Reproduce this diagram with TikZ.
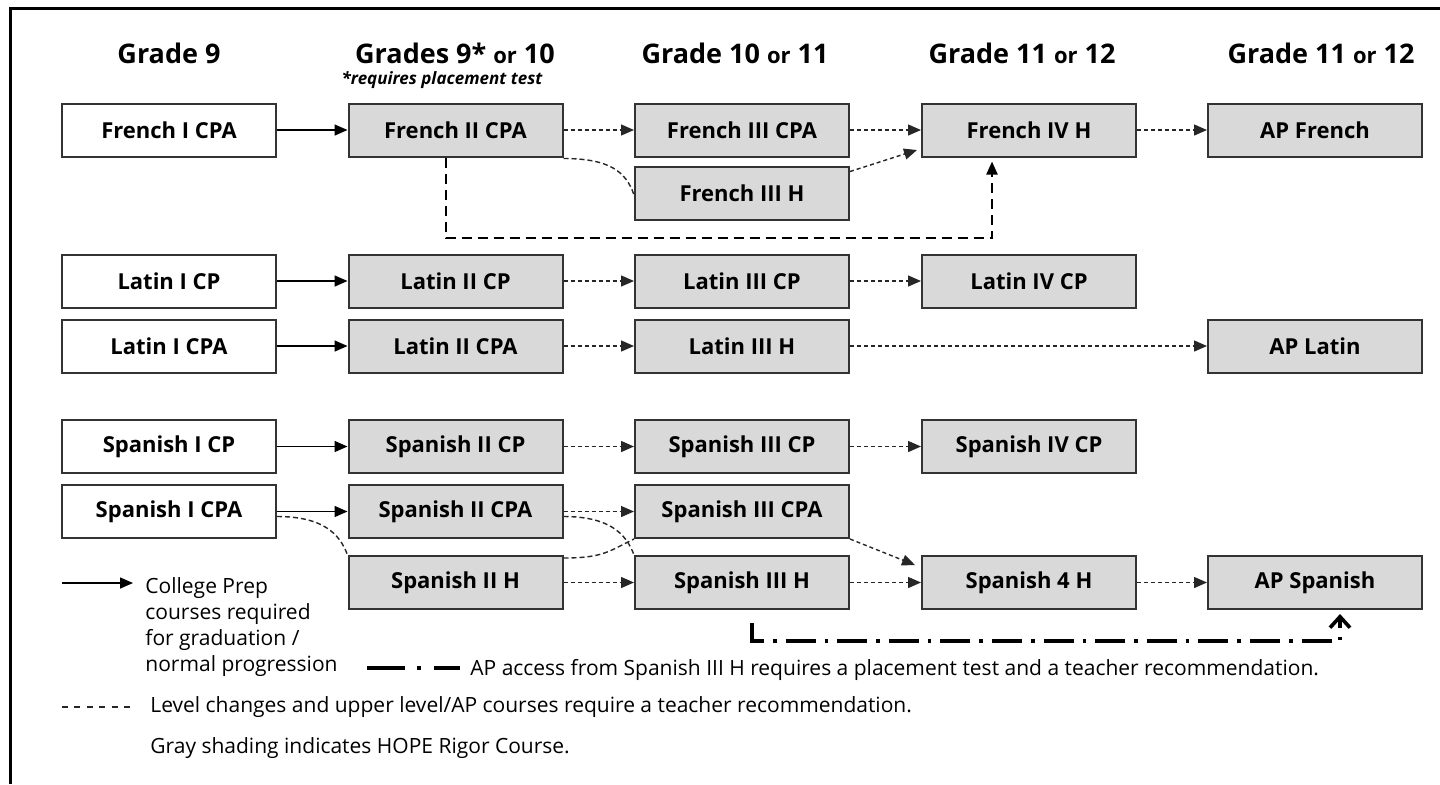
\documentclass[tikz,border=0pt]{standalone}
\usepackage{fontspec}
\setmainfont{Open Sans}
\usepackage{xcolor}
\usetikzlibrary{arrows.meta}
\usetikzlibrary{positioning}

\definecolor{hopegray}{HTML}{D9D9D9}
\definecolor{boxline}{HTML}{333333}

\newcommand{\orword}{{\fontsize{11}{13}\selectfont or}}

\begin{document}
\begin{tikzpicture}[
    x=0.5pt, y=-0.5pt,
    curso/.style={draw=boxline, line width=1pt, fill=white, minimum width=107pt, minimum height=26.5pt, inner sep=0pt, font=\fontsize{11}{13}\selectfont\bfseries},
    hope/.style={curso, fill=hopegray},
    grado/.style={font=\fontsize{13.5}{16}\selectfont\bfseries, inner sep=0pt},
    nota/.style={font=\fontsize{10.5}{13}\selectfont, inner sep=0pt, align=left},
    cp/.style={draw=black, line width=0.75pt, -{Triangle[length=6.5pt, width=5.5pt]}},
    rec/.style={draw=black!85, line width=0.7pt, dash pattern=on 2pt off 1.5pt, -{Triangle[length=6.5pt, width=5.5pt]}},
    recline/.style={draw=black!85, line width=0.7pt, dash pattern=on 2.5pt off 1.5pt},
    prueba/.style={draw=black, line width=1.1pt, dash pattern=on 5pt off 3pt, -{Triangle[length=6.5pt, width=5.5pt]}},
    apline/.style={draw=black, line width=1.8pt, dash pattern=on 15pt off 4.5pt on 1.8pt off 4.5pt, -{Straight Barb[length=5.5pt, width=10pt]}}
]
\useasboundingbox (0,0) rectangle (1440,784);
\draw[line width=1.5pt] (10,784) -- (10,8) -- (1440,8);

% Grados
\node[grado] (g1) at (169,53) {Grade 9};
\node[grado] (g2) at (455,53) {Grades 9* \orword{} 10};
\node[font=\fontsize{8.5}{10}\selectfont\bfseries\itshape, inner sep=0pt] (g2n) at (442,80) {*requires placement test};
\node[grado] (g3) at (735,53) {Grade 10 \orword{} 11};
\node[grado] (g4) at (1022,53) {Grade 11 \orword{} 12};
\node[grado] (g5) at (1321,53) {Grade 11 \orword{} 12};

% French
\node[curso] (fr1) at (169,130) {French I CPA};
\node[hope] (fr2) at (455.5,130) {French II CPA};
\node[hope] (fr3) at (742,130) {French III CPA};
\node[hope] (fr3h) at (742,193) {French III H};
\node[hope] (fr4) at (1029,130) {French IV H};
\node[hope] (apfr) at (1315,130) {AP French};

% Latin
\node[curso] (la1) at (169,281) {Latin I CP};
\node[hope] (la2) at (455.5,281) {Latin II CP};
\node[hope] (la3) at (742,281) {Latin III CP};
\node[hope] (la4) at (1029,281) {Latin IV CP};
\node[curso] (la1a) at (169,346) {Latin I CPA};
\node[hope] (la2a) at (455.5,346) {Latin II CPA};
\node[hope] (la3h) at (742,346) {Latin III H};
\node[hope] (apla) at (1315,346) {AP Latin};

% Spanish
\node[curso] (sp1) at (169,446.5) {Spanish I CP};
\node[hope] (sp2) at (455.5,446.5) {Spanish II CP};
\node[hope] (sp3) at (742,446.5) {Spanish III CP};
\node[hope] (sp4) at (1029,446.5) {Spanish IV CP};
\node[curso] (sp1a) at (169,511.5) {Spanish I CPA};
\node[hope] (sp2a) at (455.5,511.5) {Spanish II CPA};
\node[hope] (sp3a) at (742,511.5) {Spanish III CPA};
\node[hope] (sp2h) at (455.5,582.5) {Spanish II H};
\node[hope] (sp3h) at (742,582.5) {Spanish III H};
\node[hope] (sp4h) at (1029,582.5) {Spanish 4 H};
\node[hope] (apsp) at (1315,582.5) {AP Spanish};

% French arrows
\draw[cp] (fr1) -- (fr2);
\draw[rec] (fr2) -- (fr3);
\draw[recline] ([yshift=-0.5pt]fr2.south east) .. controls +(45,0) and +(-8,-24) .. ([yshift=-1pt]fr3h.west);
\draw[rec] (fr3) -- (fr4);
\draw[rec] ([yshift=-3pt]fr3h.north east) -- ([xshift=-2pt,yshift=-10pt]fr4.west);
\draw[rec] (fr4) -- (apfr);
\draw[prueba] ([xshift=-4.75pt]fr2.south) -- ++(0,80.5) -| ([xshift=-18.5pt,yshift=-2pt]fr4.south);

% Latin arrows
\draw[cp] (la1) -- (la2);
\draw[rec] (la2) -- (la3);
\draw[rec] (la3) -- (la4);
\draw[cp] (la1a) -- (la2a);
\draw[rec] (la2a) -- (la3h);
\draw[rec] (la3h) -- (apla);

% Spanish arrows
\draw[cp] (sp1) -- (sp2);
\draw[rec] (sp2) -- (sp3);
\draw[rec] (sp3) -- (sp4);
\draw[cp] (sp1a) -- (sp2a);
\draw[recline] ([yshift=-2.5pt]sp1a.east) .. controls +(45,0) and +(-8,-22) .. (sp2h.north west);
\draw[rec] (sp2a) -- (sp3a);
\draw[recline] ([yshift=-2.5pt]sp2a.east) .. controls +(45,0) and +(-8,-22) .. (sp3h.north west);
\draw[recline] ([yshift=-1.5pt]sp2h.north east) .. controls +(40,0) and +(-25,12) .. (sp3a.south west);
\draw[rec] (sp2h) -- (sp3h);
\draw[rec] (sp3a.south east) -- ([xshift=-3pt,yshift=-5pt]sp4h.north west);
\draw[rec] (sp3h) -- (sp4h);
\draw[rec] (sp4h) -- (apsp);
\coordinate (apstart) at ([xshift=5pt,yshift=-6.5pt]sp3h.south);
\draw[apline] (apstart) -- ++(0,18) -| ([xshift=12.5pt,yshift=-2pt]apsp.south);

% Leyenda
\coordinate (lgcp1) at (62,583);
\coordinate (lgcp2) at (133,583);
\draw[cp] (lgcp1) -- (lgcp2);
\node[nota, anchor=north west] (txtcp) at (145,577) {College Prep\\courses required\\for graduation /\\normal progression};
\coordinate (lgap1) at (367,668);
\coordinate (lgap2) at (460,668);
\draw[apline, -, dash pattern=on 19pt off 6pt on 2pt off 6.5pt on 20pt] (lgap1) -- (lgap2);
\node[nota, anchor=base west] (txtap) at (470,675) {AP access from Spanish III H requires a placement test and a teacher recommendation.};
\coordinate (lgrec1) at (62,707);
\coordinate (lgrec2) at (133,707);
\draw[recline, dash pattern=on 3pt off 3.2pt] (lgrec1) -- (lgrec2);
\node[nota, anchor=base west] (txtrec) at (150,712) {Level changes and upper level/AP courses require a teacher recommendation.};
\node[nota, anchor=base west] (txtgray) at (150,753) {Gray shading indicates HOPE Rigor Course.};

\end{tikzpicture}
\end{document}
